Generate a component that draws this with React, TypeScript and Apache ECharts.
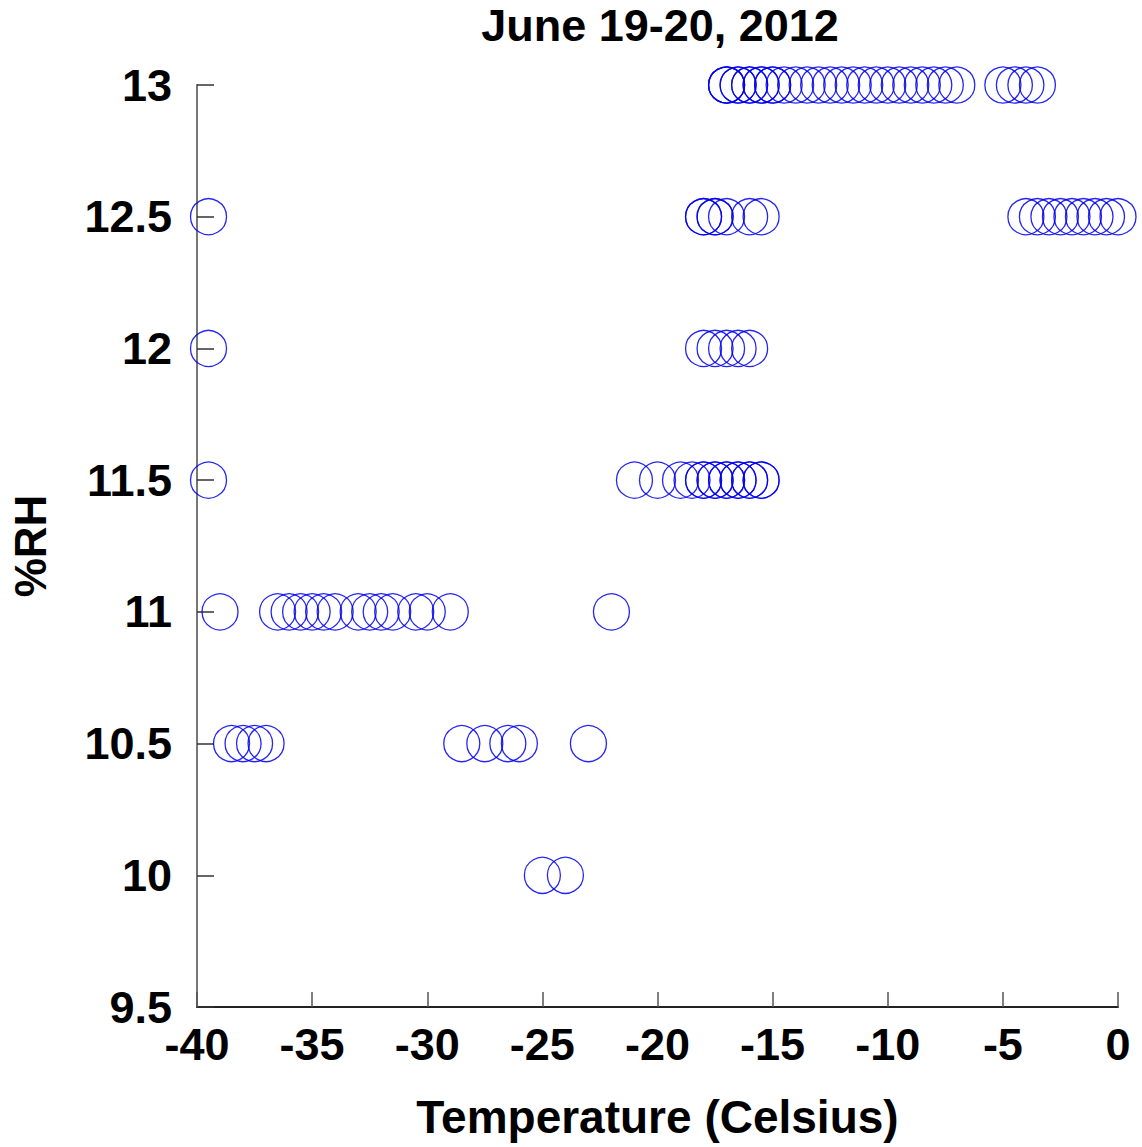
import React, { useEffect, useRef } from "react";
import * as echarts from "echarts";

const titleText = "June 19-20, 2012";
const xName = "Temperature (Celsius)";
const yName = "%RH";

const rhLevels = [13, 12.5, 12, 11.5, 11, 10.5, 10];
const tempsAt13 = [-17, -17, -17, -16.5, -16.5, -16, -16, -15.5, -15.5, -15, -15, -14.5, -14, -13.5, -13, -12.5, -12, -11.5, -11, -10.5, -10, -9.5, -9, -8.5, -8, -7.5, -7, -5, -4.5, -4, -3.5];
const tempsAt12_5 = [-39.5, -18, -18, -17.5, -17.5, -17, -16, -15.5, -4, -3.5, -3, -2.5, -2, -1.5, -1, -0.5, 0];
const tempsAt12 = [-39.5, -18, -17.5, -17, -16.5, -16];
const tempsAt11_5 = [-39.5, -21, -20, -19, -18.5, -18, -18, -17.5, -17.5, -17, -17, -16.5, -16.5, -16, -16, -15.5, -15.5];
const tempsAt11 = [-39, -36.5, -36, -35.5, -35, -34.5, -34, -33, -32.5, -32, -31.5, -30.5, -30, -29, -22];
const tempsAt10_5 = [-38.5, -38, -37.5, -37, -28.5, -27.5, -26.5, -26, -23];
const tempsAt10 = [-25, -24];

const tempsByLevel = [tempsAt13, tempsAt12_5, tempsAt12, tempsAt11_5, tempsAt11, tempsAt10_5, tempsAt10];

export default function App() {
  const ref = useRef<HTMLDivElement>(null);
  useEffect(() => {
    if (!ref.current) return;
    const chart = echarts.init(ref.current, null, { renderer: "svg" });
    const data: number[][] = [];
    rhLevels.forEach((rh, i) => {
      tempsByLevel[i].forEach((t) => data.push([t, rh]));
    });
    const font = "'Liberation Sans', Arial, sans-serif";
    chart.setOption({
      animation: false,
      backgroundColor: "#ffffff",
      title: {
        text: titleText,
        left: 655,
        textAlign: "center",
        top: -2,
        textStyle: { fontFamily: font, fontWeight: "bold", fontSize: 45, color: "#000" },
      },
      grid: { left: 197, right: 24, top: 85, bottom: 140 },
      xAxis: {
        type: "value",
        min: -40,
        max: 0,
        interval: 5,
        name: xName,
        nameLocation: "middle",
        nameGap: 87,
        nameTextStyle: { fontFamily: font, fontWeight: "bold", fontSize: 46, color: "#000" },
        axisLine: { show: true, onZero: false, lineStyle: { color: "#222", width: 2 } },
        axisTick: { show: true, inside: true, length: 15, lineStyle: { color: "#555", width: 1.5 } },
        axisLabel: { fontFamily: font, fontWeight: "bold", fontSize: 45, color: "#000", margin: 15 },
        splitLine: { show: false },
      },
      yAxis: {
        type: "value",
        min: 9.5,
        max: 13,
        interval: 0.5,
        name: yName,
        nameLocation: "middle",
        nameGap: 145,
        nameRotate: 90,
        nameTextStyle: { fontFamily: font, fontWeight: "bold", fontSize: 44, color: "#000" },
        axisLine: { show: true, onZero: false, lineStyle: { color: "#777", width: 2 } },
        axisTick: { show: true, inside: true, length: 17, lineStyle: { color: "#333", width: 1.5 } },
        axisLabel: { fontFamily: font, fontWeight: "bold", fontSize: 45, color: "#000", margin: 25 },
        splitLine: { show: false },
      },
      series: [
        {
          type: "scatter",
          data,
          symbol: "circle",
          symbolSize: 36,
          itemStyle: { color: "rgba(0,0,0,0)", borderColor: "#0000ee", borderWidth: 1.3, opacity: 0.85 },
        },
      ],
    });
    return () => chart.dispose();
  }, []);
  return (
    <div
      ref={ref}
      style={{ position: "fixed", left: 0, top: 0, width: 1142, height: 1147 }}
    />
  );
}
